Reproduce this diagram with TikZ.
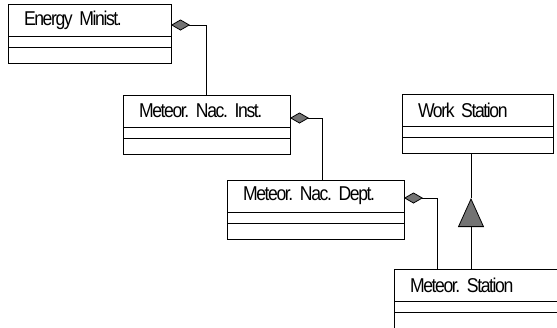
\documentclass[tikz,border=0pt]{standalone}
\usepackage{fontspec}
\newfontfamily\umlfont[FakeStretch=0.88,LetterSpace=-7]{Liberation Sans}
\newcommand\umlnamefont{\umlfont\fontsize{20}{22}\selectfont\spaceskip=1.5pt plus 1pt\relax}
\usetikzlibrary{arrows.meta,positioning}
\definecolor{umlgray}{gray}{0.45}

\begin{document}
\frenchspacing
\begin{tikzpicture}[x=1pt, y=-1pt, line width=0.8pt,
    classname/.style={draw, anchor=north west, outer sep=0pt, minimum height=32pt,
      inner xsep=16pt, inner ysep=0pt, font=\umlnamefont},
    classpart/.style={draw, outer sep=0pt, inner sep=0pt, minimum height=#1},
    aggr/.style={{Diamond[length=19pt,width=11pt,fill=umlgray]}-},
    inherit/.style={-{Triangle[length=29pt,width=26pt,fill=umlgray]}}]
  \useasboundingbox (0,0) rectangle (557,327);
  \clip (0,0) rectangle (557,327);

  % classes
  \node[classname, text width=131pt] (ener) at (8,4) {Energy Minist.};
  \node[classpart=11pt, minimum width=163pt, below=0pt of ener]  (enera) {};
  \node[classpart=16pt, minimum width=163pt, below=0pt of enera] (enerb) {};

  \node[classname, text width=135pt] (inst) at (123,95) {Meteor. Nac. Inst.};
  \node[classpart=11pt, minimum width=167pt, below=0pt of inst]  (insta) {};
  \node[classpart=16pt, minimum width=167pt, below=0pt of insta] (instb) {};

  \node[classname, text width=145pt] (dept) at (227,180) {Meteor. Nac. Dept.};
  \node[classpart=11pt, minimum width=177pt, below=0pt of dept]  (depta) {};
  \node[classpart=16pt, minimum width=177pt, below=0pt of depta] (deptb) {};

  \node[classname, text width=119pt] (ws) at (402,94) {Work Station};
  \node[classpart=11pt, minimum width=151pt, below=0pt of ws]  (wsa) {};
  \node[classpart=16pt, minimum width=151pt, below=0pt of wsa] (wsb) {};

  \node[classname, text width=143pt] (stat) at (394,269) {Meteor. Station};
  \node[classpart=11pt, minimum width=175pt, below=0pt of stat]  (stata) {};
  \node[classpart=16pt, minimum width=175pt, below=0pt of stata] (statb) {};

  % aggregations
  \draw[aggr] ([yshift=-5pt]ener.east) -| (inst.north);
  \draw[aggr] ([yshift=-7pt]inst.east) -| ([xshift=7pt]dept.north);
  \draw[aggr] ([yshift=-2pt]dept.east) -| ([xshift=43pt]stat.north west);

  % generalization
  \coordinate (tri) at (471,198);
  \draw (tri) -- (tri |- wsb.south);
  \draw[inherit] (tri |- stat.north) -- (tri);
\end{tikzpicture}
\end{document}
